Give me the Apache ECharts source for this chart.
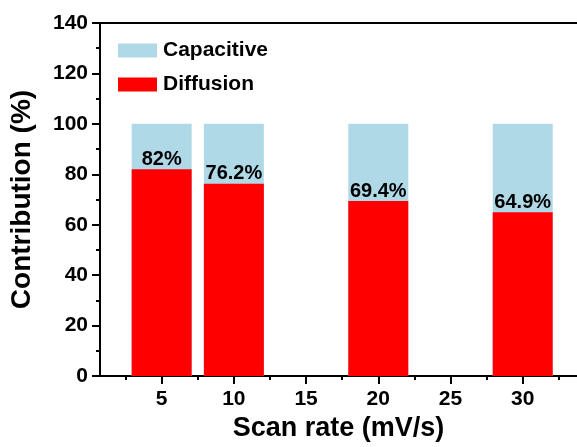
<!DOCTYPE html>
<html>
<head>
<meta charset="utf-8">
<script src="https://cdn.jsdelivr.net/npm/echarts@6/dist/echarts.min.js"></script>
<style>
html,body{margin:0;padding:0;background:#fff;}
#main{width:577px;height:447px;}
</style>
</head>
<body>
<div id="main"></div>
<script>
var scanRates = [5, 10, 20, 30];
var diffusion = [82, 76.2, 69.4, 64.9];
var capacitive = [18, 23.8, 30.6, 35.1];
var xMajorTicks = [5, 10, 15, 20, 25, 30];
var xMinorTicks = [2.5, 7.5, 12.5, 17.5, 22.5, 27.5, 32.5];

var font = 'Liberation Sans, Arial, sans-serif';

// pairs [x, y] for the value x axis
function pairs(xs, ys){
	var out = [];
	for(var i = 0 ; i < xs.length ; i++){
		out.push([xs[i], ys[i]]);
	}
	return out;
}
// top of each full bar = diffusion + capacitive
var totals = [];
for(var i = 0 ; i < diffusion.length ; i++){
	totals.push(Math.round((diffusion[i] + capacitive[i]) * 10) / 10);
}

var myChart = echarts.init(document.getElementById('main'));
var option = {
	backgroundColor: '#fff',
	animation: false,
	grid: {left: 100, right: 0, top: 23, bottom: 68},
	legend: {
		orient: 'vertical',
		left: 113,
		top: 35,
		itemWidth: 39,
		itemHeight: 14,
		itemGap: 13,
		icon: 'rect',
		data: ['Capacitive', 'Diffusion'],
		textStyle: {fontFamily: font, fontWeight: 'bold', fontSize: 21, color: '#000', padding: [0, 0, 0, 1]}
	},
	xAxis: [
		{
			type: 'value',
			min: 0.73,
			max: 33.76,
			name: 'Scan rate (mV/s)',
			nameLocation: 'middle',
			nameGap: 39,
			nameTextStyle: {fontFamily: font, fontWeight: 'bold', fontSize: 27, color: '#000'},
			splitLine: {show: false},
			axisLine: {lineStyle: {color: '#000', width: 2}},
			axisTick: {length: 8, lineStyle: {width: 2, color: '#000'}, customValues: xMajorTicks},
			axisLabel: {fontFamily: font, fontWeight: 'bold', fontSize: 21, color: '#000', margin: 13, customValues: xMajorTicks}
		},
		{
			type: 'value',
			position: 'bottom',
			min: 0.73,
			max: 33.76,
			splitLine: {show: false},
			axisLine: {show: false},
			axisTick: {length: 4, lineStyle: {width: 2, color: '#000'}, customValues: xMinorTicks},
			axisLabel: {show: false}
		},
		{
			type: 'value',
			position: 'top',
			min: 0.73,
			max: 33.76,
			splitLine: {show: false},
			axisLine: {lineStyle: {color: '#000', width: 2}},
			axisTick: {show: false},
			axisLabel: {show: false}
		}
	],
	yAxis: {
		type: 'value',
		min: 0,
		max: 140,
		interval: 20,
		name: 'Contribution (%)',
		nameLocation: 'middle',
		nameGap: 64,
		nameTextStyle: {fontFamily: font, fontWeight: 'bold', fontSize: 28, color: '#000'},
		splitLine: {show: false},
		axisLine: {show: true, lineStyle: {color: '#000', width: 2}},
		axisTick: {show: true, length: 8, lineStyle: {width: 2, color: '#000'}},
		minorTick: {show: true, splitNumber: 2, length: 4, lineStyle: {width: 2, color: '#000'}},
		axisLabel: {fontFamily: font, fontWeight: 'bold', fontSize: 21, color: '#000', margin: 12}
	},
	series: [
		{
			name: 'Capacitive',
			type: 'bar',
			barWidth: 60,
			barGap: '-100%',
			z: 1,
			itemStyle: {color: '#b0d9e8'},
			data: pairs(scanRates, totals)
		},
		{
			name: 'Diffusion',
			type: 'bar',
			barWidth: 60,
			barGap: '-100%',
			z: 2,
			itemStyle: {color: '#ff0000'},
			label: {
				show: true,
				position: 'top',
				distance: 0,
				fontFamily: font,
				fontWeight: 'bold',
				fontSize: 20,
				color: '#000',
				formatter: function(p){ return p.value[1] + '%'; }
			},
			data: pairs(scanRates, diffusion)
		}
	]
};
myChart.setOption(option);
</script>
</body>
</html>
